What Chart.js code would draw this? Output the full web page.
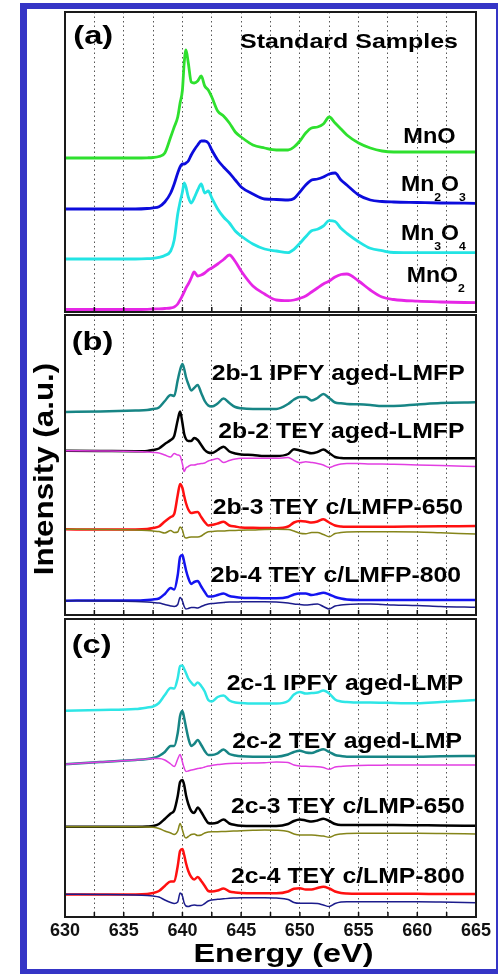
<!DOCTYPE html>
<html>
<head>
<meta charset="utf-8">
<title>Mn L-edge XAS spectra</title>
<script src="https://cdn.jsdelivr.net/npm/chart.js@4.4.1/dist/chart.umd.min.js"></script>
<style>
  html, body { margin: 0; padding: 0; background: #ffffff; }
  #figure { position: relative; width: 498px; height: 974px; overflow: hidden; background: #ffffff; }
  #figure canvas { position: absolute; left: 0; }
  #outline { position: absolute; left: 20px; top: 3px; width: 469px; height: 960px;
             border-style: solid; border-color: #3535c6; border-width: 6px 2px 5px 7px; pointer-events: none; }
</style>
</head>
<body>
<div id="figure">
  <canvas id="panelA" width="498" height="316" style="top:0px"></canvas>
  <canvas id="panelB" width="498" height="305" style="top:313px"></canvas>
  <canvas id="panelC" width="498" height="358" style="top:616px"></canvas>
  <div id="outline"></div>
</div>
<script>
const FONT = '"Liberation Sans", Arial, Helvetica, sans-serif';

// Photon energy grid (eV) shared by every spectrum
const energy = [630, 633, 636, 637, 637.5, 638, 638.5, 639, 639.3, 639.6,
                639.8, 640, 640.15, 640.3, 640.5, 640.75, 641, 641.3, 641.6, 641.9,
                642.2, 642.5, 643, 643.5, 644, 644.5, 645, 646, 647, 648,
                649, 649.5, 650, 650.5, 651, 651.5, 652, 652.5, 653, 653.5,
                654, 655, 656, 657, 658, 660, 662, 665];

const tickEnergies = [630, 632.5, 635, 637.5, 640, 642.5, 645, 647.5, 650, 652.5, 655, 657.5, 660, 662.5, 665];
const tickLabels = ['630', '635', '640', '645', '650', '655', '660', '665'];

// (a) reference oxides, intensity above each baseline (a.u.)
const mnO   = [0,0,0,0.2,0.5,1.5,5,21,31,41, 55,68,95,108,95,76,75,77,82,72, 68,61,47,42,35,26,21,13,10,8, 8,11,17,25,30,31,34,41,35,29, 23,15,10,7,6,6,6,6];
const mn2O3 = [0,0,0,0.5,1.2,2.3,7,16,25,36, 42,45,45,46,48,54,59,64,68,68, 66,59,49,42,36,29,22,15,10,9.5, 9,10.5,17,24,29,30,32,35,36,29, 24,14,9,7.5,7,6.5,6,5.7];
const mn3O4 = [0,0,0,0.3,0.7,1.7,3.5,8,19,45, 57,67,76,72,62,56,61,69,75,66, 68,61,50,42,36,28,23,15,10,8, 6.3,9.7,15.7,22.3,28.3,29.7,33,38.3,37.5,30.7, 25.7,17.3,10.7,8.3,6.5,6.3,6.3,6.3];
const mnO2  = [0,0,0,0.2,0.5,0.7,1,1.5,2.5,5.5, 9.5,14,17.5,21.5,25.5,31.5,37.5,33.5,34.5,36.5, 39.5,41.5,45.5,50,54.5,48,38.5,23.5,15.5,9.5, 8.8,9.5,11.2,13.5,17.5,21.5,25.5,28.5,32.5,35, 35.5,28.5,19.5,12.5,10,8.3,7.5,6.8];
const namesA = ['MnO', 'Mn_2O_3', 'Mn_3O_4', 'MnO_2'];
const stackA = [154, 103, 53, 2.5];

// (b) LMFP electrodes: IPFY, TEY and TEY difference spectra
const ipfyAgedLMFP = [-1,-0.5,0.5,1,2,3.5,10,16,15,31, 41,47,42,34,27,20.5,23,26,18,10, 5.5,4.5,7.5,12.5,8,4,2.7,2,2,2, 7,11.5,14,14,10.5,13,17,13,8.5,7.7, 7,6.7,6,5,5,6.5,8,8.7];
const teyAgedLMFP  = [0.3,0,-0.3,0,1,2.5,7,11,15,31, 39.5,28,17,12,10,10,13,11,6,1, -1.5,-2,1,4.3,-0.5,-2.5,-3.5,-4,-5,-5, -3,1.7,0.5,-1,-2.3,-1,1.5,-2,-6,-7, -7.3,-7.3,-7.3,-7.3,-7.3,-7.3,-7.3,-7.3];
const diffAgedLMFP = [0.3,0,-0.5,-1,-1.5,-2,-4,-6,-2.5,-4, -5,-13,-20.5,-17,-15.5,-14,-14,-13,-12.5,-12, -10,-9,-7.5,-11.5,-9.5,-8,-7.3,-7.3,-7.3,-7.3, -6.5,-9.5,-11.7,-10.7,-11.5,-12.5,-14,-16.5,-14.5,-13, -12.5,-12.5,-13,-13,-13.3,-14,-14.5,-15.5];
const teyLMFP650   = [0.2,0,0,0.5,1.5,3,8,12.5,15.5,34.5, 45.5,41.5,33.5,26.5,20,16.5,17,17.5,12.5,7.5, 4,4.5,6,7.8,4,3,2,1.7,1.5,1.3, 3,7,8.5,8,7,8,10.2,7,4,3, 2.8,2.8,2.8,2.8,2.8,3,3.2,3.5];
const diffLMFP650  = [0.2,0,-0.5,-1,-1.5,-2,-3.5,-1,-3,-2.5, 2.5,-0.5,-7,-8.5,-8,-7.5,-7.5,-7.5,-6.5,-4, -2.2,-2,-1.5,-1.5,-1,-1,-0.7,-0.5,0,0.2, 0,-1.5,-3.8,-4.3,-3,-3,-5,-7.2,-4,-3, -2.5,-2.2,-2.2,-2.2,-2.2,-2.5,-3.3,-4.5];
const teyLMFP800   = [-0.2,0,0,0.5,1,2,6.5,12.5,11,25.5, 43.5,45.5,38.5,30.5,22.5,16.5,18.5,19.5,14,8.5, 4,4,5.5,7,4.5,3.5,2.8,2.5,2.2,2.2, 3.5,6,7,7,5.5,6.5,7.8,6,3.5,2, 1,0.5,0.5,0.5,0.5,0.5,0.5,0.5];
const diffLMFP800  = [-0.2,-0.5,-1,-1.5,-2,-2.5,-4,-5.5,-6,-4, 3,-0.5,-6,-8.5,-8,-7,-7,-7.5,-6,-4.5, -3.5,-3,-2.5,-2,-1.5,-1.5,-1.3,-1.2,-1.2,-1.5, -2.5,-3.5,-4,-4.5,-4,-3.5,-6,-8.5,-5.5,-4.5, -4,-3.5,-3.5,-4,-4.5,-5,-6,-6.8];
const namesB = ['2b-1 IPFY aged-LMFP', '2b-2 TEY aged-LMFP', '2b-3 TEY c/LMFP-650', '2b-4 TEY c/LMFP-800'];
const stackB = [204, 164, 85.5, 14.5];

// (c) LMP electrodes: IPFY, TEY and TEY difference spectra
const ipfyAgedLMP = [-0.2,0.5,1.5,3,4,7.5,15.5,22.5,22,32.5, 44.5,45,41.5,37.5,32,28,25,28,24.5,19, 10.5,9,13.5,15,10,8,7.5,7,7,7, 9.5,16,18.5,17,17.5,18,20,17,11,9, 8.5,8,8,7.8,7.5,7.2,8.5,10.5];
const teyAgedLMP  = [-0.3,2,4,5,6,8,12,18,18,31, 48,53,46,37,26,18,20,24,19,13, 9,9,10.7,14.5,10,8.5,7.7,7.3,7.3,7.3, 9.5,12,13.3,11.5,11,13,14.7,12,9,8, 7.3,7.3,7.3,7.3,7.3,7.3,7.7,8];
const diffAgedLMP = [-0.3,2,4,5,5.5,5.5,4,0,-2.5,5, 9.5,2,-4,-7.5,-7,-6,-5.5,-4.5,-4,-3, -2,-1.5,-0.5,0,0.5,0.7,0.7,1,1.3,2, 1.5,-1,-2,-2.3,-2.5,-2.7,-3.5,-5.3,-3,-2.5, -2,-1.5,-1.3,-1.2,-1,-1,-1,-1];
const teyLMP650   = [0,0,0,0.2,0.7,2.7,7.7,13.2,16.2,30.7, 44.7,46.7,41.7,31.7,22.7,15.7,13.7,19.2,14.7,8.7, 3.7,3.2,4.2,7.2,3.2,1.7,1,0.7,0.7,0.7, 2.7,5.7,7.2,6.2,5.2,6.2,8,5.7,2.7,1.7, 1.7,1.7,1.7,1.7,1.7,1.5,1.2,1];
const diffLMP650  = [0,0,-0.1,-0.3,-0.6,-1.8,-4.3,-6.3,-7.8,-4.3, 3.2,-3.3,-9.3,-11.3,-9.8,-7.8,-7.3,-8.8,-8.3,-6.3, -5.3,-5,-5,-4.8,-4.6,-4.3,-4,-3.6,-3.3,-3.5, -4.8,-7.3,-8.3,-8.3,-8.3,-8.8,-9.3,-10.6,-8.3,-7.3, -6.8,-6.6,-6.6,-6.6,-6.6,-6.6,-6.8,-7.3];
const teyLMP800   = [0,0,0,0.5,1.5,3.5,8.5,13,13,28.5, 43.5,45.5,39.5,31.5,23.5,17.5,15,17.5,13.5,8.5, 3.5,3,4,6,3,2,1.5,1.2,1.2,1.2, 3,5.8,6.2,5,5,6.5,7.8,6,3,1.5, 1,0.8,0.8,0.8,0.7,0.7,0.5,0.5];
const diffLMP800  = [0.2,0,-0.5,-1,-1.5,-2.5,-5.5,-8,-9,-7.5, 1.5,-1.5,-8.5,-11.5,-12,-11,-10.5,-11,-11,-9, -6.5,-5.5,-4.8,-4.3,-3.8,-3.5,-3.2,-3.2,-3.2,-3.5, -5,-8,-8.8,-8.8,-8.8,-9,-10.5,-12,-9,-7.5, -7.2,-7.2,-7.2,-7.2,-7.2,-7.2,-7.5,-8.2];
const namesC = ['2c-1 IPFY aged-LMP', '2c-2 TEY aged-LMP', '2c-3 TEY c/LMP-650', '2c-4 TEY c/LMP-800'];
const stackC = [206.5, 153, 90.3, 22.5];

// ---------------------------------------------------------------------------

function series(values, offset) {
  return energy.map((e, i) => ({ x: e, y: values[i] + offset }));
}

function trace(values, offset, color, width, order) {
  return { data: series(values, offset), borderColor: color, borderWidth: width, fill: false, order: order };
}

// Text with "_d" subscripts, optionally stretched horizontally and rotated
function drawRich(ctx, text, x, y, size, sx, align, angle) {
  const parts = text.split(/(_\w)/).filter(Boolean)
    .map(p => (p[0] === '_' ? { t: p.slice(1), sub: true } : { t: p, sub: false }));
  const subSize = size * 0.53, drop = size * 0.45;
  const fontFor = p => `bold ${p.sub ? subSize : size}px ${FONT}`;
  ctx.save();
  ctx.translate(x, y);
  if (angle) ctx.rotate(angle);
  ctx.scale(sx, 1);
  ctx.fillStyle = '#000';
  ctx.textAlign = 'left';
  ctx.textBaseline = 'alphabetic';
  let total = 0;
  parts.forEach(p => { ctx.font = fontFor(p); p.w = ctx.measureText(p.t).width; total += p.w; });
  let cx = align === 'center' ? -total / 2 : 0;
  parts.forEach(p => { ctx.font = fontFor(p); ctx.fillText(p.t, cx, p.sub ? drop : 0); cx += p.w; });
  ctx.restore();
}

// Panel frame, inward bottom ticks, in-plot annotations and axis titles
const panelDecor = {
  id: 'panelDecor',
  afterDatasetsDraw(chart, args, opts) {
    const { ctx, chartArea: a, scales: { x, y } } = chart;
    ctx.save();
    ctx.strokeStyle = '#111';
    ctx.lineWidth = 1.5;
    x.ticks.forEach(t => {
      const px = x.getPixelForValue(t.value);
      ctx.beginPath();
      ctx.moveTo(px, a.bottom);
      ctx.lineTo(px, a.bottom - 5);
      ctx.stroke();
    });
    ctx.strokeStyle = '#1a1a1a';
    ctx.lineWidth = 2;
    ctx.strokeRect(a.left, a.top, a.right - a.left, a.bottom - a.top);
    ctx.restore();

    (opts.labels || []).forEach(l =>
      drawRich(ctx, l.text, x.getPixelForValue(l.e), y.getPixelForValue(l.v), l.size, l.sx, 'left', 0));

    if (opts.yTitle) {
      const t = opts.yTitle;
      drawRich(ctx, t.text, a.left + t.dx, (a.top + a.bottom) / 2 + t.dy, t.size, t.sx, 'center', -Math.PI / 2);
    }
    if (opts.xTitle) {
      const t = opts.xTitle;
      drawRich(ctx, t.text, (a.left + a.right) / 2 + t.dx, a.bottom + t.dy, t.size, t.sx, 'center', 0);
    }
  }
};

function buildPanel(id, datasets, yMax, padding, decor, withTickLabels) {
  return new Chart(document.getElementById(id), {
    type: 'line',
    data: { datasets },
    options: {
      responsive: false,
      animation: false,
      devicePixelRatio: 1,
      events: [],
      layout: { padding },
      elements: {
        point: { radius: 0 },
        line: { cubicInterpolationMode: 'monotone', borderJoinStyle: 'round', borderCapStyle: 'round' }
      },
      plugins: { legend: { display: false }, tooltip: { enabled: false }, panelDecor: decor },
      scales: {
        x: {
          type: 'linear', min: 630, max: 665,
          afterBuildTicks: scale => { scale.ticks = tickEnergies.map(v => ({ value: v })); },
          ticks: {
            display: withTickLabels, autoSkip: false, maxRotation: 0, minRotation: 0, padding: 3,
            color: '#111', font: { family: FONT, size: 18, weight: 'bold' },
            callback: v => (tickLabels.includes(String(v)) ? String(v) : '')
          },
          grid: { color: '#555', lineWidth: 1, drawTicks: false },
          border: { display: false, dash: [1.5, 3] }
        },
        y: { display: false, min: 0, max: yMax }
      }
    },
    plugins: [panelDecor]
  });
}

// (a) standard samples
buildPanel('panelA', [
  trace(mnO,   stackA[0], '#2ee02e', 2.8, 1),
  trace(mn2O3, stackA[1], '#0c0cdc', 2.8, 1),
  trace(mn3O4, stackA[2], '#22e4e4', 2.8, 1),
  trace(mnO2,  stackA[3], '#e626e6', 2.8, 1)
], 300, { left: 65, right: 22, top: 12, bottom: 4 }, {
  labels: [
    { text: '(a)', e: 630.71, v: 268.5, size: 25.5, sx: 1.28 },
    { text: 'Standard Samples', e: 644.9, v: 263.7, size: 21, sx: 1.19 },
    { text: namesA[0], e: 658.81, v: 168.7, size: 22, sx: 1.07 },
    { text: namesA[1], e: 658.61, v: 121.3, size: 22, sx: 1.05 },
    { text: namesA[2], e: 658.61, v: 72,    size: 22, sx: 1.05 },
    { text: namesA[3], e: 659.10, v: 30.3,  size: 22, sx: 1.05 }
  ]
}, false);

// (b) LMFP
buildPanel('panelB', [
  trace(ipfyAgedLMFP, stackB[0], '#178585', 2.5, 1),
  trace(diffAgedLMFP, stackB[1], '#e23ee2', 1.5, 0),
  trace(teyAgedLMFP,  stackB[1], '#000000', 2.5, 1),
  trace(diffLMFP650,  stackB[2], '#85851a', 1.5, 0),
  trace(teyLMFP650,   stackB[2], '#ff1010', 2.5, 1),
  trace(diffLMFP800,  stackB[3], '#1c1c8c', 1.5, 0),
  trace(teyLMFP800,   stackB[3], '#1414f0', 2.5, 1)
], 300, { left: 65, right: 22, top: 2, bottom: 3 }, {
  labels: [
    { text: '(b)', e: 630.57, v: 265, size: 25.5, sx: 1.28 },
    { text: namesB[0], e: 642.49, v: 235,   size: 22, sx: 1.125 },
    { text: namesB[1], e: 643.05, v: 176.7, size: 22, sx: 1.125 },
    { text: namesB[2], e: 642.58, v: 101,   size: 22, sx: 1.125 },
    { text: namesB[3], e: 642.41, v: 33.3,  size: 22, sx: 1.125 }
  ],
  yTitle: { text: 'Intensity (a.u.)', size: 27, sx: 1.16, dx: -12.3, dy: 4 }
}, false);

// (c) LMP
buildPanel('panelC', [
  trace(ipfyAgedLMP, stackC[0], '#2ee6e6', 2.5, 1),
  trace(diffAgedLMP, stackC[1], '#e23ee2', 1.5, 0),
  trace(teyAgedLMP,  stackC[1], '#178585', 2.5, 1),
  trace(diffLMP650,  stackC[2], '#85851a', 1.5, 0),
  trace(teyLMP650,   stackC[2], '#000000', 2.5, 1),
  trace(diffLMP800,  stackC[3], '#1c1c8c', 1.5, 0),
  trace(teyLMP800,   stackC[3], '#ff1010', 2.5, 1)
], 298, { left: 65, right: 22, top: 3, bottom: 29.4 }, {
  labels: [
    { text: '(c)', e: 630.57, v: 263.7, size: 25.5, sx: 1.28 },
    { text: namesC[0], e: 643.77, v: 227,   size: 22, sx: 1.125 },
    { text: namesC[1], e: 644.25, v: 169.3, size: 22, sx: 1.125 },
    { text: namesC[2], e: 644.14, v: 103.7, size: 22, sx: 1.125 },
    { text: namesC[3], e: 644.14, v: 34.3,  size: 22, sx: 1.125 }
  ],
  xTitle: { text: 'Energy (eV)', size: 25.5, sx: 1.27, dx: 13, dy: 44.7 }
}, true);
</script>
</body>
</html>
